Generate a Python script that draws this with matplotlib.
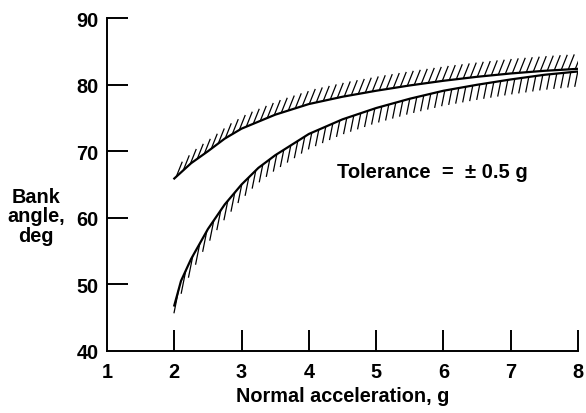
import numpy as np
import matplotlib
matplotlib.use('Agg')
import matplotlib.pyplot as plt
from matplotlib.collections import LineCollection

plt.rcParams['font.family'] = ['Liberation Sans', 'DejaVu Sans']
plt.rcParams['font.weight'] = 'bold'

# valores (aceleracion normal en g, angulo en grados)
accel_sup = [2.0, 2.25, 2.5, 2.75, 3.0, 3.5, 4.0, 4.5, 5.0, 5.5, 6.0, 6.5, 7.0, 7.5, 8.0]
angulo_sup = [65.9, 68.2, 70.0, 71.9, 73.4, 75.5, 77.1, 78.2, 79.1, 79.9, 80.6, 81.2, 81.7, 82.1, 82.4]

accel_inf = [2.0, 2.1, 2.25, 2.5, 2.75, 3.0, 3.25, 3.5, 4.0, 4.5, 5.0, 5.5, 6.0, 6.5, 7.0, 7.5, 8.0]
angulo_inf = [46.8, 50.5, 53.8, 58.3, 62.0, 65.0, 67.5, 69.4, 72.6, 74.8, 76.5, 77.9, 79.1, 80.0, 80.8, 81.5, 82.0]

x_ticks = [1, 2, 3, 4, 5, 6, 7, 8]
y_ticks = [40, 50, 60, 70, 80, 90]


def rayado(ax, xs, ys, dx, dy, extra=0.0, inicio=2.0, paso=7.0):
    # rayitas cortas a lo largo de la curva, separadas en horizontal (pixeles)
    pts = ax.transData.transform(np.column_stack([xs, ys]))
    px = np.arange(pts[0, 0] + inicio, pts[-1, 0], paso)
    py = np.interp(px, pts[:, 0], pts[:, 1])
    pend = np.abs(np.gradient(py, px))
    inv = ax.transData.inverted()
    segs = []
    for a, b, m in zip(px, py, pend):
        k = 1 + extra * min(m, 3) / 3
        segs.append([inv.transform((a, b)), inv.transform((a + dx * k, b + dy * k))])
    ax.add_collection(LineCollection(segs, colors='black', linewidths=0.9))


fig = plt.figure(figsize=(5.86, 4.14), dpi=100)
ax = fig.add_axes([0.1826, 0.1505, 0.8037, 0.8029])
ax.set_xlim(1, 8)
ax.set_ylim(40, 90)

ax.plot(accel_sup, angulo_sup, c='black', lw=1.6)
ax.plot(accel_inf, angulo_inf, c='black', lw=1.6)

fig.canvas.draw()
rayado(ax, accel_sup, angulo_sup, 6, 15)
rayado(ax, accel_inf, angulo_inf, -3, -15, extra=0.7, inicio=4.5)

ax.spines['top'].set_visible(False)
ax.spines['right'].set_visible(False)
ax.spines['left'].set_linewidth(1.4)
ax.spines['bottom'].set_linewidth(1.4)
ax.set_xticks(x_ticks)
ax.set_yticks(y_ticks)
ax.tick_params(direction='in', length=15, width=1.4, labelsize=14.3)
ax.tick_params(axis='y', pad=6)
ax.tick_params(axis='x', pad=8)
ax.set_xticklabels([str(v) for v in x_ticks], fontweight='bold')
ax.set_yticklabels([str(v) for v in y_ticks], fontweight='bold')
ax.xaxis.get_major_ticks()[0].tick1line.set_visible(False)
ax.yaxis.get_major_ticks()[0].tick1line.set_visible(False)

ax.set_xlabel('Normal acceleration, g', fontsize=14.3, fontweight='bold', labelpad=4)
fig.text(0.0614, 0.476, 'Bank\nangle,\ndeg', ha='center', va='center',
         fontsize=14.3, fontweight='bold', linespacing=1.05)

ax.text(4.42, 66.9, 'Tolerance  =  \u00b1 0.5 g', fontsize=14.5, fontweight='bold',
        va='center')

fig.savefig('out.png', dpi=100)
